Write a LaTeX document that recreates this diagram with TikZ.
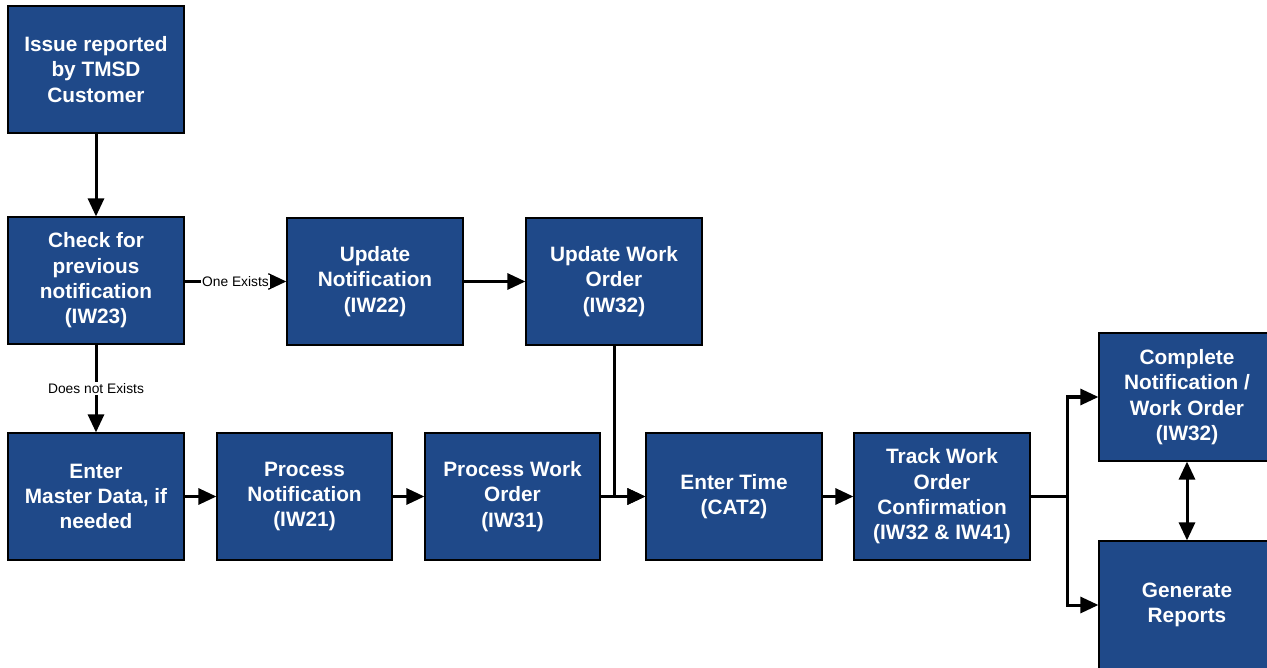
\documentclass[tikz,border=0pt]{standalone}
\usepackage{fontspec}
\setmainfont{Liberation Sans}
\usetikzlibrary{arrows.meta}
\definecolor{boxblue}{RGB}{31,73,137}
\tikzset{
  procbox/.style={draw=black,line width=1.2pt,fill=boxblue,text=white,minimum width=176pt,minimum height=127pt,align=center,inner sep=2pt,font=\bfseries\fontsize{20.8}{25.3}\selectfont},
  flow/.style={line width=3pt,-{Triangle[length=18pt,width=16pt]}},
  plain/.style={line width=3pt},
  lbl/.style={fill=white,inner sep=1pt,font=\fontsize{13.8}{16}\selectfont}
}

\begin{document}
\begin{tikzpicture}[x=1pt,y=-1pt]
\useasboundingbox (0,0) rectangle (1267,668);
\node[procbox] (issue) at (96,69.5) {Issue reported\\by TMSD\\Customer};
\node[procbox] (check) at (96,280.5) {Check for\\previous\\notification\\(IW23)};
\node[procbox] (updnot) at (375,281.5) {Update\\Notification\\(IW22)};
\node[procbox] (updwo) at (614,281.5) {Update Work\\Order\\(IW32)};
\node[procbox] (master) at (96,496.5) {Enter\\Master Data, if\\needed};
\node[procbox,minimum width=175pt] (procnot) at (304.5,496.5) {Process\\Notification\\(IW21)};
\node[procbox,minimum width=175pt] (procwo) at (512.5,496.5) {Process Work\\Order\\(IW31)};
\node[procbox] (time) at (734,496.5) {Enter Time\\(CAT2)};
\node[procbox] (track) at (942,496.5) {Track Work\\Order\\Confirmation\\(IW32 \& IW41)};
\node[procbox,minimum height=128pt] (complete) at (1187,397) {Complete\\Notification /\\Work Order\\(IW32)};
\node[procbox,minimum height=128pt] (reports) at (1187,605) {Generate\\Reports};
\coordinate (split) at (1067,496.5);

\draw[flow] (issue) -- (check);
\draw[flow] (check.east |- updnot) -- node[lbl] {One Exists} (updnot);
\draw[flow] (check) -- node[lbl] {Does not Exists} (master);
\draw[flow] (updnot) -- (updwo);
\draw[flow] (updwo) |- (time);
\draw[flow] (master) -- (procnot);
\draw[flow] (procnot) -- (procwo);
\draw[flow] (procwo) -- (time);
\draw[flow] (time) -- (track);
\draw[plain] (track) -- (split);
\draw[flow] (split) |- (complete);
\draw[flow] (split) |- (reports);
\draw[line width=3pt,{Triangle[length=18pt,width=16pt]}-{Triangle[length=18pt,width=16pt]}] (complete) -- (reports);
\end{tikzpicture}
\end{document}
